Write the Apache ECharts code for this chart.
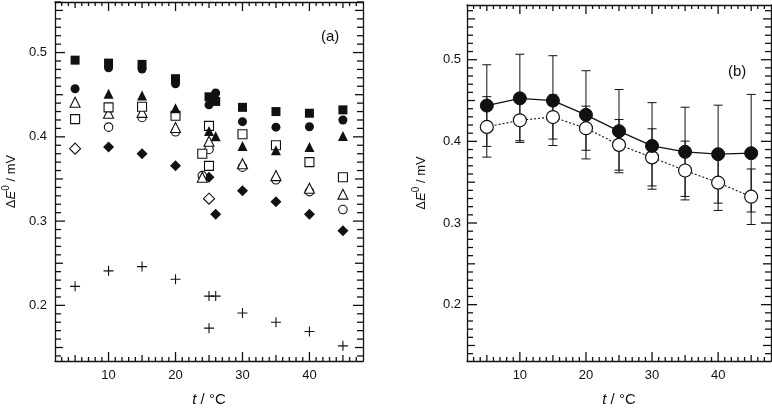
<!DOCTYPE html>
<html>
<head>
<meta charset="utf-8">
<script src="https://cdn.jsdelivr.net/npm/echarts@6/dist/echarts.min.js"></script>
<style>
  html, body { margin: 0; padding: 0; background: #fff; }
  #chart { width: 772px; height: 412px; }
</style>
</head>
<body>
<div id="chart"></div>
<script>
// ---- panel (a): individual runs, [t, dE0] ----
const sqFilled = [[5, 0.491], [10, 0.4875], [15, 0.486], [20, 0.469], [25, 0.4475], [26, 0.442], [30, 0.435], [35, 0.430], [40, 0.428], [45, 0.432]];
const ciFilled = [[5, 0.457], [10, 0.482], [15, 0.4805], [20, 0.463], [25, 0.438], [26, 0.452], [30, 0.418], [35, 0.4115], [40, 0.412], [45, 0.420]];
const triFilled = [[10, 0.451], [15, 0.449], [20, 0.434], [25, 0.407], [26, 0.4006], [30, 0.389], [35, 0.384], [40, 0.388], [45, 0.401]];
const sqOpen = [[5, 0.421], [10, 0.435], [15, 0.4357], [20, 0.425], [25, 0.413], [24, 0.380], [25, 0.3656], [30, 0.403], [35, 0.390], [40, 0.370], [45, 0.352]];
const triOpen = [[5, 0.441], [10, 0.428], [15, 0.429], [20, 0.411], [25, 0.3948], [24, 0.352], [30, 0.368], [35, 0.354], [40, 0.339], [45, 0.332]];
const ciOpen = [[10, 0.4115], [15, 0.423], [20, 0.406], [25, 0.385], [24, 0.354], [30, 0.364], [35, 0.349], [40, 0.335], [45, 0.3137]];
const diaFilled = [[10, 0.388], [15, 0.380], [20, 0.3656], [25, 0.352], [26, 0.308], [30, 0.336], [35, 0.323], [40, 0.308], [45, 0.2885]];
const diaOpen = [[5, 0.386], [25, 0.3266]];
const crosses = [[5, 0.2226], [10, 0.241], [15, 0.246], [20, 0.231], [25, 0.211], [26, 0.211], [25, 0.173], [30, 0.191], [35, 0.180], [40, 0.169], [45, 0.152]];

// ---- panel (b): means with error bars ----
const temps = [5, 10, 15, 20, 25, 30, 35, 40, 45];
const meanFilled = [0.4438, 0.4527, 0.4499, 0.4325, 0.4125, 0.3944, 0.3872, 0.3843, 0.3855];
const errFilled = [0.050, 0.054, 0.055, 0.054, 0.051, 0.053, 0.0546, 0.060, 0.072];
const meanOpen = [0.4177, 0.4258, 0.4298, 0.4161, 0.3957, 0.3804, 0.3643, 0.3494, 0.3322];
const errOpen = [0.037, 0.025, 0.027, 0.027, 0.031, 0.035, 0.036, 0.034, 0.034];

// ---- tick labels ----
const xTickLabels = [10, 20, 30, 40];
const yTickLabels = [0.2, 0.3, 0.4, 0.5];

const FONT = 'Liberation Sans, Arial, sans-serif';
const INK = '#111';
const X_MIN = 2, X_MAX = 48;

// tick positions (scale only): [value, tick length]
function steps(from, to, step, len, keep) {
  const out = [];
  for (let i = Math.round(from / step); i <= Math.round(to / step); i++) {
    const v = Math.round(i * step * 1000) / 1000;
    if (keep(v)) out.push([v, len]);
  }
  return out;
}
const isMul = (v, m) => Math.abs(v / m - Math.round(v / m)) < 1e-6;
const xTicks = [].concat(
  xTickLabels.map(v => [v, 9]),
  steps(5, 45, 5, 6, v => !isMul(v, 10)),
  steps(3, 47, 1, 4, v => !isMul(v, 5))
);
const yTicks = [].concat(
  yTickLabels.map(v => [v, 10]),
  steps(0.15, 0.55, 0.05, 8, v => !isMul(v, 0.1)),
  steps(0.14, 0.56, 0.01, 6, v => !isMul(v, 0.05))
);

const yName = {
  text: '{d|Δ}{e|E}{s|0}{n| / mV}',
  rich: {
    d: { fontFamily: FONT, fontSize: 13, color: INK },
    e: { fontFamily: FONT, fontSize: 13, fontStyle: 'italic', color: INK },
    s: { fontFamily: FONT, fontSize: 10, color: INK, padding: [0, 0, 11, 0] },
    n: { fontFamily: FONT, fontSize: 13, color: INK }
  }
};
const xName = {
  text: '{i|t}{n| / °C}',
  rich: {
    i: { fontFamily: FONT, fontSize: 15, fontStyle: 'italic', color: INK },
    n: { fontFamily: FONT, fontSize: 15, color: INK }
  }
};

const grids = [
  { left: 55, top: 2, width: 308, height: 365 },
  { left: 467, top: 5, width: 304, height: 362 }
];
const yRanges = [[0.134, 0.56], [0.131, 0.567]];
const yNameGaps = [33, 35];
const yLabelMargins = [8, 6];

const lineStyle = { color: INK, width: 1.3 };
let xAxes = [], yAxes = [];
[0, 1].forEach(g => {
  const common = { gridIndex: g, type: 'value', splitLine: { show: false }, axisTick: { show: false } };
  xAxes.push(Object.assign({}, common, {
    position: 'bottom', min: X_MIN, max: X_MAX,
    axisLine: { onZero: false, lineStyle: lineStyle },
    axisLabel: { customValues: xTickLabels, margin: 8, fontFamily: FONT, fontSize: 13, color: INK },
    name: xName.text, nameLocation: 'middle', nameGap: 31, nameTextStyle: { rich: xName.rich }
  }));
  xAxes.push(Object.assign({}, common, {
    position: 'top', min: X_MIN, max: X_MAX,
    axisLine: { onZero: false, lineStyle: lineStyle }, axisLabel: { show: false }
  }));
  yAxes.push(Object.assign({}, common, {
    position: 'left', min: yRanges[g][0], max: yRanges[g][1],
    axisLine: { onZero: false, lineStyle: lineStyle },
    axisLabel: { customValues: yTickLabels, margin: yLabelMargins[g], fontFamily: FONT, fontSize: 13, color: INK },
    name: yName.text, nameLocation: 'middle', nameGap: yNameGaps[g], nameRotate: 90,
    nameTextStyle: { rich: yName.rich }
  }));
  yAxes.push(Object.assign({}, common, {
    position: 'right', min: yRanges[g][0], max: yRanges[g][1],
    axisLine: { onZero: false, lineStyle: lineStyle }, axisLabel: { show: false }
  }));
});

// inward ticks on the four sides of a panel, drawn as thin rect symbols at the edges
const TW = 1.3;
function tickScatter(g) {
  const [y0, y1] = yRanges[g];
  const items = [];
  xTicks.forEach(([v, len]) => {
    items.push({ value: [v, y0], symbolSize: [TW, len], symbolOffset: [0, -len / 2] });
    items.push({ value: [v, y1], symbolSize: [TW, len], symbolOffset: [0, len / 2] });
  });
  yTicks.forEach(([v, len]) => {
    items.push({ value: [X_MIN, v], symbolSize: [len, TW], symbolOffset: [len / 2, 0] });
    items.push({ value: [X_MAX, v], symbolSize: [len, TW], symbolOffset: [-len / 2, 0] });
  });
  return {
    type: 'scatter', xAxisIndex: 2 * g, yAxisIndex: 2 * g, data: items,
    symbol: 'rect', clip: false, silent: true, z: 6,
    itemStyle: { color: INK, borderWidth: 0, opacity: 1 }
  };
}

function scatter(data, symbol, size, open) {
  return {
    type: 'scatter', xAxisIndex: 0, yAxisIndex: 0,
    data: data, symbol: symbol, symbolSize: size, silent: true,
    itemStyle: open
      ? { color: '#fff', borderColor: INK, borderWidth: 1.1, opacity: 1 }
      : { color: INK, borderColor: INK, borderWidth: 0, opacity: 1 }
  };
}

function errData(means, errs) {
  return temps.map((t, i) => [t, means[i] - errs[i], means[i] + errs[i]]);
}
function renderErr(params, api) {
  const t = api.value(0);
  const lo = api.coord([t, api.value(1)]);
  const hi = api.coord([t, api.value(2)]);
  const w = 4.5;
  const st = { stroke: INK, lineWidth: 1 };
  return {
    type: 'group', children: [
      { type: 'line', shape: { x1: hi[0], y1: hi[1], x2: lo[0], y2: lo[1] }, style: st },
      { type: 'line', shape: { x1: hi[0] - w, y1: hi[1], x2: hi[0] + w, y2: hi[1] }, style: st },
      { type: 'line', shape: { x1: lo[0] - w, y1: lo[1], x2: lo[0] + w, y2: lo[1] }, style: st }
    ]
  };
}
const pairs = (means) => temps.map((t, i) => [t, means[i]]);

const chart = echarts.init(document.getElementById('chart'), null, { renderer: 'canvas' });
chart.setOption({
  animation: false,
  backgroundColor: '#fff',
  grid: grids,
  xAxis: xAxes,
  yAxis: yAxes,
  graphic: [
    { type: 'text', left: 321, top: 29, style: { text: '(a)', font: '15px ' + FONT, fill: INK } },
    { type: 'text', left: 728, top: 64, style: { text: '(b)', font: '15px ' + FONT, fill: INK } }
  ],
  series: [
    tickScatter(0),
    tickScatter(1),
    scatter(crosses, 'path://M0,5L10,5M5,0L5,10', 10, true),
    scatter(diaFilled, 'diamond', 11, false),
    scatter(diaOpen, 'diamond', 11, true),
    scatter(ciOpen, 'circle', 8.5, true),
    scatter(triOpen, 'triangle', 10, true),
    scatter(sqOpen, 'rect', 9, true),
    scatter(triFilled, 'triangle', 10, false),
    scatter(ciFilled, 'circle', 9, false),
    scatter(sqFilled, 'rect', 9, false),
    {
      type: 'custom', xAxisIndex: 2, yAxisIndex: 2,
      data: errData(meanFilled, errFilled), renderItem: renderErr, silent: true, z: 1
    },
    {
      type: 'custom', xAxisIndex: 2, yAxisIndex: 2,
      data: errData(meanOpen, errOpen), renderItem: renderErr, silent: true, z: 1
    },
    {
      type: 'line', xAxisIndex: 2, yAxisIndex: 2, data: pairs(meanOpen),
      symbol: 'circle', symbolSize: 13, silent: true, z: 3,
      lineStyle: { color: INK, width: 1.1, type: [2, 2] },
      itemStyle: { color: '#fff', borderColor: INK, borderWidth: 1.2 }
    },
    {
      type: 'line', xAxisIndex: 2, yAxisIndex: 2, data: pairs(meanFilled),
      symbol: 'circle', symbolSize: 13, silent: true, z: 4,
      lineStyle: { color: INK, width: 1.3 },
      itemStyle: { color: INK, borderColor: INK, borderWidth: 1 }
    }
  ]
});
</script>
</body>
</html>
